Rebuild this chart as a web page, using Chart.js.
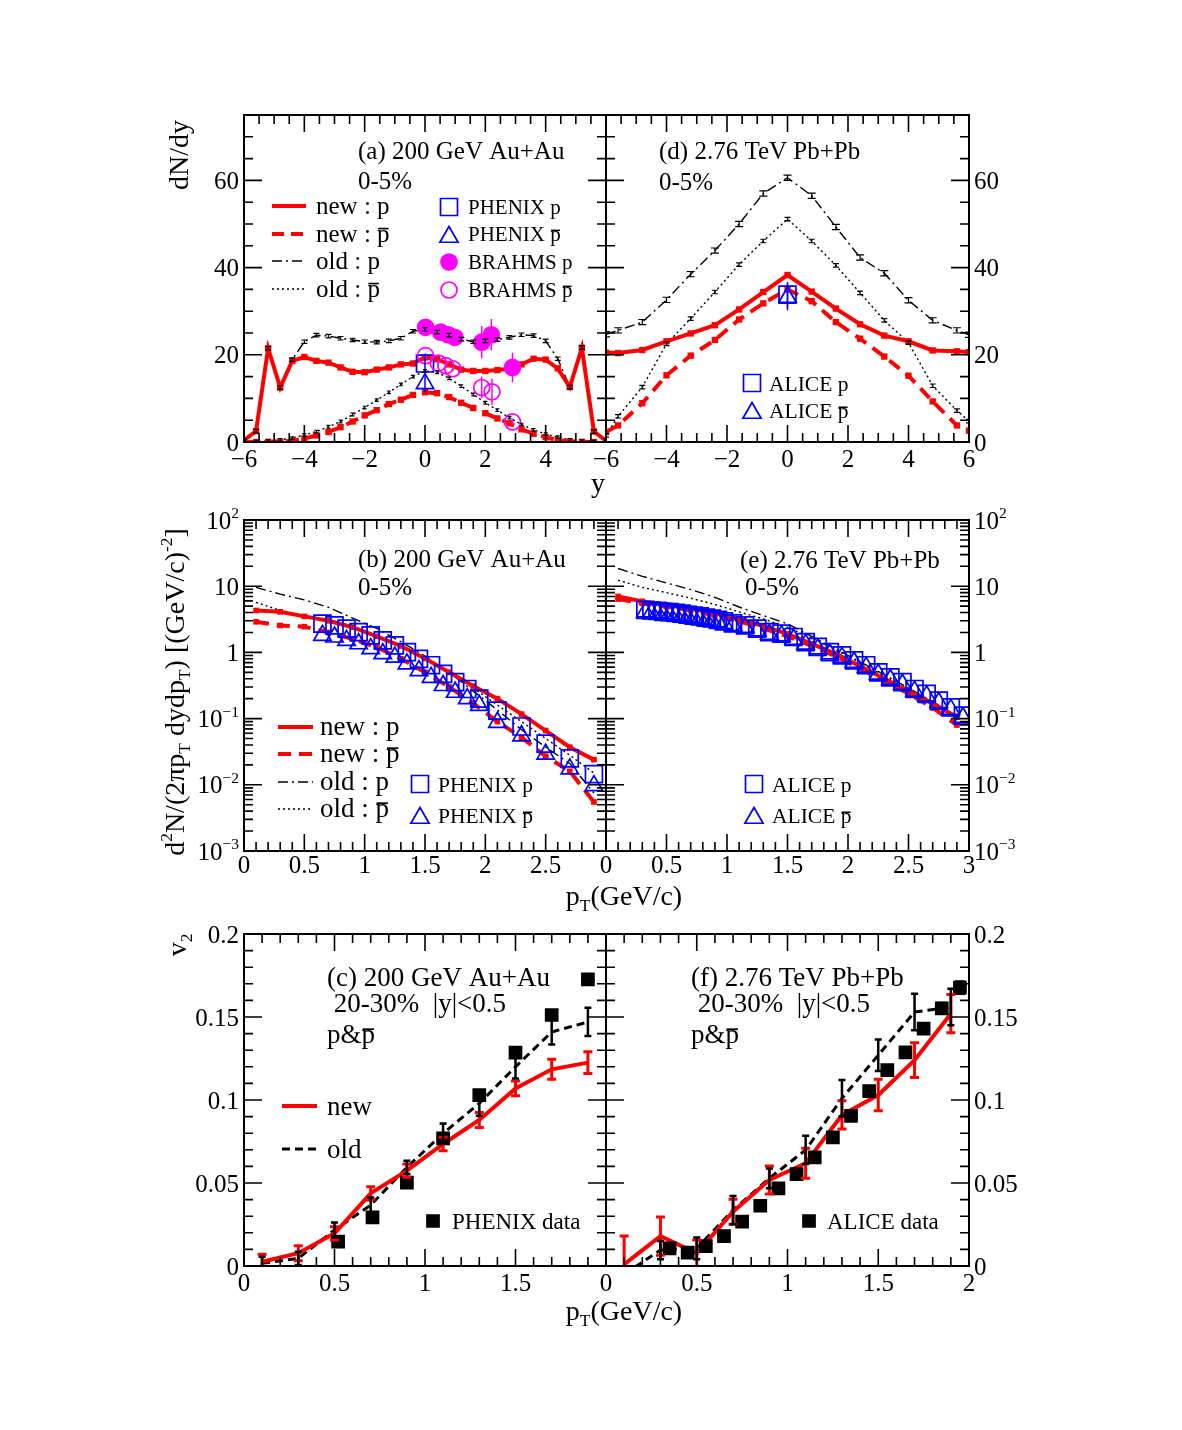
<!DOCTYPE html>
<html>
<head>
<meta charset="utf-8">
<script src="https://cdn.jsdelivr.net/npm/chart.js@4.4.0/dist/chart.umd.min.js"></script>
<style>
  body { margin: 0; background: #fff; }
  #page { position: relative; width: 1182px; height: 1430px; overflow: hidden; }
  #page canvas { position: absolute; }
</style>
</head>
<body>
<div id="page"></div>
<script>
// ---------- axis ticks / labels
const rapTicks = [-6, -4, -2, 0, 2, 4, 6];
const rapLabelsLeft = ['−6', '−4', '−2', '0', '2', '4'];        // "6" is covered by "-6" of panel (d)
const rapLabelsRight = ['−6', '−4', '−2', '0', '2', '4', '6'];
const dndyTicks = [0, 20, 40, 60];
const dndyLabels = ['0', '20', '40', '60'];
const ptTicks = [0, 0.5, 1, 1.5, 2, 2.5, 3];
const ptLabelsLeft = ['0', '0.5', '1', '1.5', '2', '2.5'];
const ptLabelsRight = ['0', '0.5', '1', '1.5', '2', '2.5', '3'];
const specTicks = [1e-3, 1e-2, 1e-1, 1, 10, 100];
const specLabels = [[['10', ''], ['−3', 'sup']], [['10', ''], ['−2', 'sup']], [['10', ''], ['−1', 'sup']], '1', '10', [['10', ''], ['2', 'sup']]];
const v2PtTicks = [0, 0.5, 1, 1.5, 2];
const v2PtLabelsLeft = ['0', '0.5', '1', '1.5'];
const v2PtLabelsRight = ['0', '0.5', '1', '1.5', '2'];
const v2Ticks = [0, 0.05, 0.1, 0.15, 0.2];
const v2Labels = ['0', '0.05', '0.1', '0.15', '0.2'];

// ---------- (a) 200 GeV Au+Au, dN/dy
const rapA = [-6, -5.6, -5.2, -4.8, -4.4, -4, -3.6, -3.2, -2.8, -2.4, -2, -1.6, -1.2, -0.8, -0.4, 0, 0.4, 0.8, 1.2, 1.6, 2, 2.4, 2.8, 3.2, 3.6, 4, 4.4, 4.8, 5.2, 5.6, 6];
const newPA = [0.4, 2.5, 21.5, 12.5, 18.6, 19.5, 18.6, 18.2, 17.1, 16.1, 16.0, 16.6, 17.1, 17.8, 18.0, 19.4, 19.0, 17.8, 16.6, 16.3, 16.3, 16.5, 16.8, 17.8, 19.1, 18.9, 16.9, 12.6, 21.6, 2.4, 0.3];
const newPbarA = [0, 0, 0.05, 0.1, 0.3, 0.8, 1.5, 2.3, 3.4, 4.7, 6.1, 7.3, 8.7, 9.7, 10.8, 11.4, 11.2, 10.3, 9.0, 7.8, 6.6, 5.4, 4.3, 2.9, 1.9, 1.1, 0.4, 0.15, 0.05, 0, 0];
const oldPA = [0.3, 2.5, 21.5, 12.5, 18.9, 23.0, 24.5, 24.3, 23.8, 23.4, 23.0, 22.9, 23.2, 23.8, 25.4, 25.8, 25.2, 24.5, 23.6, 23.0, 23.2, 23.5, 24.0, 24.6, 24.4, 23.2, 19.1, 12.6, 21.7, 2.4, 0.3];
const oldPbarA = [0, 0.1, 0.2, 0.5, 0.9, 1.6, 2.4, 3.5, 4.7, 6.3, 7.9, 9.6, 11.4, 13.2, 15.0, 16.3, 16.0, 14.6, 12.8, 10.9, 9.0, 7.3, 5.6, 4.0, 2.8, 1.8, 1.1, 0.5, 0.2, 0.1, 0];
const phenixPRap = [0], phenixPdndy = [18.0], phenixPdndyErr = [2.2];
const phenixPbarRap = [0], phenixPbarDndy = [13.4], phenixPbarDndyErr = [2.0];
const brahmsPRap = [0.02, 0.52, 0.77, 0.99, 1.88, 2.2, 2.9];
const brahmsP = [26.3, 25.2, 24.6, 24.0, 22.9, 24.6, 17.1];
const brahmsPErr = [0.8, 0.8, 0.8, 0.8, 3.7, 3.6, 3.4];
const brahmsPbarRap = [0.02, 0.44, 0.69, 0.92, 1.88, 2.22, 2.9];
const brahmsPbar = [19.8, 18.1, 17.5, 16.8, 12.5, 11.5, 4.6];
const brahmsPbarErr = [0.6, 0.6, 0.6, 0.6, 2.5, 3.0, 0.8];

// ---------- (d) 2.76 TeV Pb+Pb, dN/dy
const rapD = [-6, -5.6, -4.8, -4, -3.2, -2.4, -1.6, -0.8, 0, 0.8, 1.6, 2.4, 3.2, 4, 4.8, 5.6, 6];
const newPD = [20.5, 20.4, 21.1, 23.1, 24.9, 26.8, 30.4, 34.4, 38.3, 34.5, 30.6, 27.0, 24.4, 23.1, 21.0, 20.8, 20.6];
const newPbarD = [2.3, 3.8, 8.9, 15.3, 19.8, 23.4, 28.1, 31.8, 35.0, 32.3, 27.5, 23.7, 19.6, 15.2, 9.3, 3.8, 2.6];
const oldPD = [24.7, 25.6, 27.5, 32.6, 38.5, 43.9, 50.0, 57.0, 60.6, 56.5, 49.3, 42.3, 38.7, 32.5, 27.9, 25.6, 24.6];
const oldPbarD = [1.5, 5.9, 12.6, 22.5, 28.3, 34.4, 40.7, 46.1, 51.1, 46.1, 40.5, 34.2, 27.9, 22.8, 12.9, 7.2, 4.8];
const aliceRap = [0], alicePdndy = [33.8], alicePdndyErr = [2.9], alicePbarDndy = [33.2], alicePbarDndyErr = [3.0];

// ---------- (b) 200 GeV Au+Au, pT spectra
const ptModel = [0.1, 0.3, 0.5, 0.7, 0.9, 1.1, 1.3, 1.5, 1.7, 1.9, 2.1, 2.3, 2.5, 2.7, 2.9];
const newPB = [4.3, 4.1, 3.5, 3.0, 2.4, 1.75, 1.25, 0.81, 0.5, 0.31, 0.2, 0.117, 0.066, 0.037, 0.024];
const newPbarB = [2.9, 2.55, 2.45, 2.0, 1.6, 1.2, 0.8, 0.5, 0.3, 0.17, 0.09, 0.052, 0.027, 0.016, 0.0055];
const oldPB = [9.6, 7.6, 6.2, 4.8, 3.3, 2.3, 1.45, 0.88, 0.5, 0.26, 0.135, 0.068, 0.037, 0.021, 0.0075];
const oldPbarB = [5.7, 4.3, 3.5, 2.9, 2.3, 1.75, 1.25, 0.82, 0.5, 0.29, 0.16, 0.09, 0.05, 0.028, 0.015];
const phenixPt = [0.65, 0.75, 0.85, 0.95, 1.05, 1.15, 1.25, 1.35, 1.45, 1.55, 1.65, 1.75, 1.85, 1.95, 2.1, 2.3, 2.5, 2.7, 2.9];
const phenixPSpec = [2.72, 2.56, 2.29, 2.03, 1.81, 1.52, 1.28, 1.01, 0.80, 0.64, 0.475, 0.355, 0.28, 0.20, 0.132, 0.076, 0.042, 0.025, 0.0145];
const phenixPbarSpec = [1.81, 1.71, 1.52, 1.35, 1.14, 0.955, 0.85, 0.67, 0.53, 0.42, 0.316, 0.25, 0.20, 0.158, 0.088, 0.055, 0.029, 0.0174, 0.0097];

// ---------- (e) 2.76 TeV Pb+Pb, pT spectra
const newPE = [7.0, 5.9, 5.2, 4.6, 3.9, 3.2, 2.5, 1.9, 1.35, 0.95, 0.62, 0.4, 0.26, 0.17, 0.105];
const newPbarE = [6.4, 5.5, 4.9, 4.3, 3.6, 2.95, 2.3, 1.75, 1.25, 0.87, 0.57, 0.37, 0.24, 0.145, 0.08];
const oldPE = [18.5, 14.1, 11.2, 8.9, 6.8, 4.85, 3.6, 2.7, 1.75, 1.12, 0.72, 0.46, 0.29, 0.18, 0.11];
const oldPbarE = [12.3, 9.6, 8.0, 6.6, 5.3, 4.1, 3.2, 2.4, 1.65, 1.08, 0.7, 0.44, 0.28, 0.17, 0.1];
const alicePt = [0.325, 0.375, 0.425, 0.475, 0.525, 0.575, 0.625, 0.675, 0.725, 0.775, 0.825, 0.875, 0.925, 0.975, 1.05,
  1.15, 1.25, 1.35, 1.45, 1.55, 1.65, 1.75, 1.85, 1.95, 2.05, 2.15, 2.25, 2.35, 2.45, 2.55, 2.65, 2.75, 2.85, 2.95];
const alicePSpec = [4.4, 4.3, 4.25, 4.1, 4.05, 3.95, 3.85, 3.7, 3.6, 3.5, 3.35, 3.25, 3.1, 2.95, 2.75,
  2.56, 2.29, 2.03, 1.92, 1.71, 1.43, 1.21, 1.01, 0.90, 0.76, 0.64, 0.50, 0.42, 0.355, 0.28, 0.237, 0.187, 0.148, 0.111];
const alicePbarSpec = [4.1, 4.0, 3.95, 3.85, 3.75, 3.65, 3.55, 3.45, 3.35, 3.25, 3.1, 3.0, 2.9, 2.75, 2.55,
  2.38, 2.12, 1.88, 1.78, 1.58, 1.33, 1.13, 0.95, 0.84, 0.71, 0.6, 0.47, 0.39, 0.33, 0.26, 0.22, 0.175, 0.138, 0.104];

// ---------- (c) / (f) v2
const ptV2 = [0.1, 0.3, 0.5, 0.7, 0.9, 1.1, 1.3, 1.5, 1.7, 1.9];
const newV2C = [0.0026, 0.0077, 0.0197, 0.0438, 0.0574, 0.0735, 0.088, 0.107, 0.1185, 0.1225];
const newV2CErr = [0.0045, 0.0045, 0.004, 0.004, 0.004, 0.004, 0.0045, 0.0045, 0.006, 0.0065];
const oldV2C = [0.0016, 0.0046, 0.0217, 0.0367, 0.0594, 0.0799, 0.098, 0.120, 0.141, 0.147];
const oldV2CErr = [0.004, 0.004, 0.0045, 0.0045, 0.004, 0.006, 0.0075, 0.007, 0.0075, 0.0085];
const phenixV2Pt = [0.52, 0.71, 0.9, 1.1, 1.3, 1.5, 1.7, 1.9];
const phenixV2 = [0.0147, 0.0293, 0.0502, 0.0769, 0.103, 0.1285, 0.1512, 0.1727];

const newV2F = [0.001, 0.018, 0.0076, 0.0327, 0.0518, 0.0619, 0.091, 0.103, 0.124, 0.152];
const newV2FErr = [0.017, 0.0115, 0.008, 0.0075, 0.0085, 0.009, 0.0085, 0.0095, 0.0105, 0.0115];
const oldV2F = [-0.005, 0.0096, 0.0106, 0.0337, 0.0528, 0.0699, 0.101, 0.127, 0.153, 0.156];
const oldV2FErr = [0.004, 0.0055, 0.0065, 0.0085, 0.006, 0.0085, 0.011, 0.0095, 0.011, 0.011];
const aliceV2Pt = [0.35, 0.45, 0.55, 0.65, 0.75, 0.85, 0.95, 1.05, 1.15, 1.25, 1.35, 1.45, 1.55, 1.65, 1.75, 1.85, 1.95];
const aliceV2 = [0.0106, 0.008, 0.012, 0.018, 0.0267, 0.0363, 0.0468, 0.0554, 0.0655, 0.0775, 0.0904, 0.1054, 0.118, 0.1287, 0.143, 0.1552, 0.1677];
const aliceV2Err = [0.002, 0.002, 0.002, 0.002, 0.002, 0.002, 0.002, 0.0022, 0.0025, 0.0025, 0.003, 0.003, 0.003, 0.003, 0.003, 0.0035, 0.004];

const RED = '#ff0000', BLUE = '#0000ff', MAG = '#ff00ff', BLACK = '#000000';
const FONT = '"Liberation Serif", "DejaVu Serif", "Times New Roman", serif';
const M = { l: 100, r: 100, t: 30, b: 70 };  // canvas margin round each frame

// ---------- helpers
function steps(min, max, step) {
  const out = [];
  for (let v = min; v <= max + 1e-9; v += step) out.push(+v.toFixed(6));
  return out;
}
function logMinors(d0, d1) {
  const out = [];
  for (let d = d0; d < d1; d++) for (let m = 2; m <= 9; m++) out.push(m * Math.pow(10, d));
  return out;
}
const pts = (xs, ys) => xs.map((x, i) => ({ x, y: ys[i] }));

function segFont(kind, size) {
  const s = (kind === 'sub' || kind === 'sup') ? size * 0.62 : size;
  return s.toFixed(1) + 'px ' + FONT;
}
// rich text: segs = string or [[text, ''|'sub'|'sup'|'bar'], ...]; y is the visual middle
function richText(ctx, segs, x, y, size, align) {
  if (typeof segs === 'string') segs = [[segs, '']];
  let w = 0;
  segs.forEach(([t, k]) => { ctx.font = segFont(k, size); w += ctx.measureText(t).width; });
  let cx = align === 'center' ? x - w / 2 : align === 'right' ? x - w : x;
  const base = y + size * 0.34;
  ctx.textAlign = 'left';
  ctx.textBaseline = 'alphabetic';
  segs.forEach(([t, k]) => {
    ctx.font = segFont(k, size);
    let by = base;
    if (k === 'sub') by = base + size * 0.24;
    if (k === 'sup') by = base - size * 0.42;
    ctx.fillText(t, cx, by);
    const tw = ctx.measureText(t).width;
    if (k === 'bar') ctx.fillRect(cx + tw * 0.08, base - size * 0.55, tw * 0.84, Math.max(1.5, size * 0.065));
    cx += tw;
  });
}

function curve(xs, ys, o) {
  return {
    data: pts(xs, ys), showLine: true, fill: false, tension: 0, clip: 0,
    borderColor: o.color, borderWidth: o.width, borderDash: o.dash || [],
    pointStyle: 'rect', pointRadius: o.r || 0, pointBackgroundColor: o.color,
    pointBorderColor: o.color, pointBorderWidth: 0,
    errors: o.err, errColor: o.color, errWidth: o.errWidth || 1.2, errCap: o.cap || 3
  };
}
function marks(xs, ys, o) {
  return {
    data: pts(xs, ys), showLine: false, clip: 0,
    pointStyle: o.style, pointRadius: o.r, pointBorderColor: o.color,
    pointBackgroundColor: o.fill ? o.color : 'rgba(0,0,0,0)', pointBorderWidth: o.bw || 1.7,
    errors: o.err, errColor: o.color, errWidth: 1.5, errCap: o.cap || 0
  };
}

// error bars read from dataset.errors (array or one number)
const errorBars = {
  id: 'errorBars',
  afterDatasetsDraw(chart) {
    const { ctx, chartArea: a } = chart;
    ctx.save();
    ctx.beginPath();
    ctx.rect(a.left, a.top, a.right - a.left, a.bottom - a.top);
    ctx.clip();
    chart.data.datasets.forEach((ds, i) => {
      if (ds.errors === undefined) return;
      const meta = chart.getDatasetMeta(i);
      const ys = chart.scales[meta.yAxisID];
      ctx.strokeStyle = ds.errColor;
      ctx.lineWidth = ds.errWidth;
      ctx.setLineDash([]);
      meta.data.forEach((pt, j) => {
        const e = Array.isArray(ds.errors) ? ds.errors[j] : ds.errors;
        if (!e) return;
        const v = ds.data[j].y;
        const y1 = ys.getPixelForValue(v - e), y2 = ys.getPixelForValue(v + e);
        const c = ds.errCap;
        ctx.beginPath();
        ctx.moveTo(pt.x, y1); ctx.lineTo(pt.x, y2);
        if (c) {
          ctx.moveTo(pt.x - c, y1); ctx.lineTo(pt.x + c, y1);
          ctx.moveTo(pt.x - c, y2); ctx.lineTo(pt.x + c, y2);
        }
        ctx.stroke();
      });
    });
    ctx.restore();
  }
};

// frame with inside ticks on all four sides, and tick labels
function framePlugin(f) {
  return {
    id: 'frame',
    afterDraw(chart) {
      const { ctx, chartArea: a, scales: { x, y } } = chart;
      ctx.save();
      ctx.strokeStyle = BLACK;
      ctx.setLineDash([]);
      ctx.lineWidth = 1.6;
      ctx.beginPath();
      const xt = (vals, len) => vals.forEach(v => {
        const p = x.getPixelForValue(v);
        if (p < a.left + 1 || p > a.right - 1) return;
        ctx.moveTo(p, a.bottom); ctx.lineTo(p, a.bottom - len);
        ctx.moveTo(p, a.top); ctx.lineTo(p, a.top + len);
      });
      const yt = (vals, len) => vals.forEach(v => {
        const p = y.getPixelForValue(v);
        if (p < a.top + 1 || p > a.bottom - 1) return;
        ctx.moveTo(a.left, p); ctx.lineTo(a.left + len, p);
        ctx.moveTo(a.right, p); ctx.lineTo(a.right - len, p);
      });
      xt(f.xMinor, 9); xt(f.xMajor, 17);
      yt(f.yMinor, 9); yt(f.yMajor, 18);
      ctx.stroke();
      ctx.lineWidth = 2;
      ctx.strokeRect(a.left, a.top, a.right - a.left, a.bottom - a.top);
      ctx.fillStyle = BLACK;
      f.xLabels.forEach((t, i) => richText(ctx, t, x.getPixelForValue(f.xMajor[i]), a.bottom + f.xGap, 25, 'center'));
      f.yLabels.forEach((t, i) => {
        const p = y.getPixelForValue(f.yMajor[i]);
        if (f.side === 'left') richText(ctx, t, a.left - 5, p, 25, 'right');
        else richText(ctx, t, a.right + 5, p, 25, 'left');
      });
      ctx.restore();
    }
  };
}

// texts, legend lines and legend markers, given in page pixels
function notesPlugin(items, ox, oy) {
  return {
    id: 'notes',
    afterDraw(chart) {
      const ctx = chart.ctx;
      ctx.save();
      items.forEach(it => {
        const px = it.x - ox, py = it.y - oy;
        if (it.k === 't') {
          ctx.fillStyle = BLACK;
          if (it.rot) {
            ctx.save();
            ctx.translate(px, py);
            ctx.rotate(-Math.PI / 2);
            richText(ctx, it.segs, 0, 0, it.size, 'center');
            ctx.restore();
          } else {
            richText(ctx, it.segs, px, py, it.size, it.align || 'left');
          }
        } else if (it.k === 'l') {
          ctx.strokeStyle = it.color;
          ctx.lineWidth = it.w;
          ctx.setLineDash(it.dash || []);
          ctx.beginPath();
          ctx.moveTo(it.x - ox, py); ctx.lineTo(it.x2 - ox, py);
          ctx.stroke();
          ctx.setLineDash([]);
        } else if (it.k === 'm') {
          ctx.strokeStyle = it.color;
          ctx.fillStyle = it.fill ? it.color : 'rgba(0,0,0,0)';
          ctx.lineWidth = 1.7;
          Chart.helpers.drawPoint(ctx, { pointStyle: it.style, radius: it.r, rotation: 0, borderWidth: 1.7 }, px, py);
        }
      });
      ctx.restore();
    }
  };
}

function makePanel(box, cfg) {
  const c = document.createElement('canvas');
  const w = box.r - box.l + M.l + M.r, h = box.b - box.t + M.t + M.b;
  c.width = w; c.height = h;
  c.style.left = (box.l - M.l) + 'px';
  c.style.top = (box.t - M.t) + 'px';
  c.style.width = w + 'px';
  c.style.height = h + 'px';
  document.getElementById('page').appendChild(c);
  return new Chart(c, {
    type: 'line',
    data: { datasets: cfg.datasets },
    options: {
      responsive: false, animation: false, events: [], devicePixelRatio: 1,
      layout: { padding: { left: M.l, right: M.r, top: M.t, bottom: M.b } },
      scales: {
        x: { type: 'linear', min: cfg.x[0], max: cfg.x[1], display: false },
        y: { type: cfg.log ? 'logarithmic' : 'linear', min: cfg.y[0], max: cfg.y[1], display: false }
      },
      plugins: { legend: { display: false }, tooltip: { enabled: false } }
    },
    plugins: [errorBars, framePlugin(cfg.frame), notesPlugin(cfg.notes || [], box.l - M.l, box.t - M.t)]
  });
}

const T = (segs, x, y, size, extra) => Object.assign({ k: 't', segs, x, y, size }, extra || {});
const L = (x, x2, y, color, w, dash) => ({ k: 'l', x, x2, y, color, w, dash });
const P = (x, y, style, r, color, fill) => ({ k: 'm', x, y, style, r, color, fill });
const pbar = (pre) => [[pre, ''], ['p', 'bar']];

const DASH_NEW = [13, 8], DASH_DOT = [10, 4, 2, 4], DOTS = [2, 3], DASH_OLD = [8, 5];

// ---------- row 1: dN/dy
makePanel({ l: 244, r: 606, t: 115, b: 442 }, {
  x: [-6, 6], y: [0, 75],
  frame: { xMajor: rapTicks, xMinor: steps(-6, 6, 0.5), yMajor: dndyTicks, yMinor: steps(0, 75, 5),
           xLabels: rapLabelsLeft, yLabels: dndyLabels, side: 'left', xGap: 16 },
  datasets: [
    marks(brahmsPRap, brahmsP, { style: 'circle', r: 8, color: MAG, fill: true, err: brahmsPErr }),
    marks(brahmsPbarRap, brahmsPbar, { style: 'circle', r: 8, color: MAG, err: brahmsPbarErr }),
    marks(phenixPRap, phenixPdndy, { style: 'rect', r: 12, color: BLUE, err: phenixPdndyErr }),
    marks(phenixPbarRap, phenixPbarDndy, { style: 'triangle', r: 10, color: BLUE, err: phenixPbarDndyErr }),
    curve(rapA, newPA, { color: RED, width: 4, r: 4.5 }),
    curve(rapA, newPbarA, { color: RED, width: 4, dash: DASH_NEW, r: 4.5 }),
    curve(rapA, oldPA, { color: BLACK, width: 1.4, dash: DASH_DOT, err: 0.4, cap: 3 }),
    curve(rapA, oldPbarA, { color: BLACK, width: 1.4, dash: DOTS, err: 0.3, cap: 2 })
  ],
  notes: [
    T('(a) 200 GeV Au+Au', 358, 150, 25), T('0-5%', 358, 180, 25),
    L(272, 306, 206, RED, 4), L(272, 306, 234, RED, 4, [12, 7]),
    L(272, 306, 261, BLACK, 1.4, DASH_DOT), L(272, 306, 289, BLACK, 1.4, DOTS),
    T('new : p', 316, 205, 25), T(pbar('new : '), 316, 233, 25),
    T('old : p', 316, 260, 25), T(pbar('old : '), 316, 288, 25),
    P(449, 207, 'rect', 12, BLUE), P(449, 237, 'triangle', 10.5, BLUE),
    P(449, 262, 'circle', 8, MAG, true), P(449, 290, 'circle', 8, MAG),
    T('PHENIX p', 468, 207, 21), T(pbar('PHENIX '), 468, 234, 21),
    T('BRAHMS p', 468, 262, 21), T(pbar('BRAHMS '), 468, 290, 21),
    T('dN/dy', 178, 155, 28, { rot: true }),
    T('y', 598, 482, 28, { align: 'center' })
  ]
});

makePanel({ l: 606, r: 969, t: 115, b: 442 }, {
  x: [-6, 6], y: [0, 75],
  frame: { xMajor: rapTicks, xMinor: steps(-6, 6, 0.5), yMajor: dndyTicks, yMinor: steps(0, 75, 5),
           xLabels: rapLabelsRight, yLabels: dndyLabels, side: 'right', xGap: 16 },
  datasets: [
    marks(aliceRap, alicePdndy, { style: 'rect', r: 12, color: BLUE, err: alicePdndyErr }),
    marks(aliceRap, alicePbarDndy, { style: 'triangle', r: 10, color: BLUE, err: alicePbarDndyErr }),
    curve(rapD, newPD, { color: RED, width: 4, r: 4.5 }),
    curve(rapD, newPbarD, { color: RED, width: 4, dash: DASH_NEW, r: 4.5 }),
    curve(rapD, oldPD, { color: BLACK, width: 1.4, dash: DASH_DOT, err: 0.6, cap: 4 }),
    curve(rapD, oldPbarD, { color: BLACK, width: 1.4, dash: DOTS, err: 0.4, cap: 3 })
  ],
  notes: [
    T('(d) 2.76 TeV Pb+Pb', 659, 150, 25), T('0-5%', 659, 181, 25),
    P(752, 383, 'rect', 12, BLUE), T('ALICE p', 769, 384, 21.5),
    P(752, 413, 'triangle', 10.5, BLUE), T(pbar('ALICE '), 769, 411, 21.5)
  ]
});

// ---------- row 2: pT spectra (log)
const specFrame = { xMajor: ptTicks, xMinor: steps(0, 3, 0.1), yMajor: specTicks, yMinor: logMinors(-3, 2), yLabels: specLabels, xGap: 13 };

makePanel({ l: 244, r: 606, t: 520, b: 851 }, {
  x: [0, 3], y: [0.001, 100], log: true,
  frame: Object.assign({}, specFrame, { xLabels: ptLabelsLeft, side: 'left' }),
  datasets: [
    marks(phenixPt, phenixPSpec, { style: 'rect', r: 12, color: BLUE }),
    marks(phenixPt, phenixPbarSpec, { style: 'triangle', r: 10, color: BLUE }),
    curve(ptModel, newPB, { color: RED, width: 4, r: 4 }),
    curve(ptModel, newPbarB, { color: RED, width: 4, dash: DASH_NEW, r: 4 }),
    curve(ptModel, oldPB, { color: BLACK, width: 1.4, dash: DASH_DOT }),
    curve(ptModel, oldPbarB, { color: BLACK, width: 1.4, dash: DOTS })
  ],
  notes: [
    T('(b) 200 GeV Au+Au', 358, 558, 25), T('0-5%', 358, 586, 25),
    L(278, 313, 727, RED, 4), L(278, 313, 754, RED, 4, [13, 8]),
    L(278, 313, 782, BLACK, 1.4, DASH_DOT), L(278, 313, 809, BLACK, 1.4, DOTS),
    T('new : p', 320, 726, 27), T(pbar('new : '), 320, 753, 27),
    T('old : p', 320, 781, 27), T(pbar('old : '), 320, 808, 27),
    P(420, 784, 'rect', 12, BLUE), T('PHENIX p', 438, 785, 21.5),
    P(420, 818, 'triangle', 10.5, BLUE), T(pbar('PHENIX '), 438, 816, 21.5),
    T([['d', ''], ['2', 'sup'], ['N/(2πp', ''], ['T', 'sub'], [' dydp', ''], ['T', 'sub'], [') [(GeV/c)', ''], ['-2', 'sup'], [']', '']],
      174, 692, 28, { rot: true }),
    T([['p', ''], ['T', 'sub'], ['(GeV/c)', '']], 624, 895, 28, { align: 'center' })
  ]
});

makePanel({ l: 606, r: 969, t: 520, b: 851 }, {
  x: [0, 3], y: [0.001, 100], log: true,
  frame: Object.assign({}, specFrame, { xLabels: ptLabelsRight, side: 'right' }),
  datasets: [
    marks(alicePt, alicePSpec, { style: 'rect', r: 12, color: BLUE }),
    marks(alicePt, alicePbarSpec, { style: 'triangle', r: 10, color: BLUE }),
    curve(ptModel, newPE, { color: RED, width: 4, r: 4 }),
    curve(ptModel, newPbarE, { color: RED, width: 4, dash: DASH_NEW, r: 4 }),
    curve(ptModel, oldPE, { color: BLACK, width: 1.4, dash: DASH_DOT }),
    curve(ptModel, oldPbarE, { color: BLACK, width: 1.4, dash: DOTS })
  ],
  notes: [
    T('(e) 2.76 TeV Pb+Pb', 740, 559, 25), T('0-5%', 745, 586, 25),
    P(754, 784, 'rect', 12, BLUE), T('ALICE p', 772, 785, 21.5),
    P(754, 818, 'triangle', 10.5, BLUE), T(pbar('ALICE '), 772, 816, 21.5)
  ]
});

// ---------- row 3: v2
const v2Frame = { xMajor: v2PtTicks, xMinor: steps(0, 2, 0.1), yMajor: v2Ticks, yMinor: steps(0, 0.2, 0.01), yLabels: v2Labels, xGap: 16 };

makePanel({ l: 244, r: 606, t: 934, b: 1266 }, {
  x: [0, 2], y: [0, 0.2],
  frame: Object.assign({}, v2Frame, { xLabels: v2PtLabelsLeft, side: 'left' }),
  datasets: [
    marks(phenixV2Pt, phenixV2, { style: 'rect', r: 8.5, color: BLACK, fill: true }),
    curve(ptV2, newV2C, { color: RED, width: 4, err: newV2CErr, errWidth: 3, cap: 4.5 }),
    curve(ptV2, oldV2C, { color: BLACK, width: 3, dash: DASH_OLD, err: oldV2CErr, errWidth: 2.5, cap: 3.5 })
  ],
  notes: [
    T('(c) 200 GeV Au+Au', 327, 977, 27), T(' 20-30%  |y|<0.5', 327, 1003, 27), T(pbar('p&'), 327, 1034, 27),
    L(282, 317, 1106, RED, 4), T('new', 327, 1106, 27),
    L(282, 317, 1149, BLACK, 3, DASH_OLD), T('old', 327, 1149, 27),
    P(433, 1221, 'rect', 8.5, BLACK, true), T('PHENIX data', 452, 1221, 23),
    T([['v', ''], ['2', 'sub']], 176, 945, 28, { rot: true }),
    T([['p', ''], ['T', 'sub'], ['(GeV/c)', '']], 624, 1310, 28, { align: 'center' })
  ]
});

makePanel({ l: 606, r: 969, t: 934, b: 1266 }, {
  x: [0, 2], y: [0, 0.2],
  frame: Object.assign({}, v2Frame, { xLabels: v2PtLabelsRight, side: 'right' }),
  datasets: [
    marks(aliceV2Pt, aliceV2, { style: 'rect', r: 8.5, color: BLACK, fill: true, err: aliceV2Err, cap: 5 }),
    curve(ptV2, newV2F, { color: RED, width: 4, err: newV2FErr, errWidth: 3, cap: 4.5 }),
    curve(ptV2, oldV2F, { color: BLACK, width: 3, dash: DASH_OLD, err: oldV2FErr, errWidth: 2.5, cap: 3.5 })
  ],
  notes: [
    T('(f) 2.76 TeV Pb+Pb', 691, 977, 27), T(' 20-30%  |y|<0.5', 691, 1003, 27), T(pbar('p&'), 691, 1034, 27),
    P(809, 1221, 'rect', 8.5, BLACK, true), T('ALICE data', 827, 1221, 23)
  ]
});
</script>
</body>
</html>
